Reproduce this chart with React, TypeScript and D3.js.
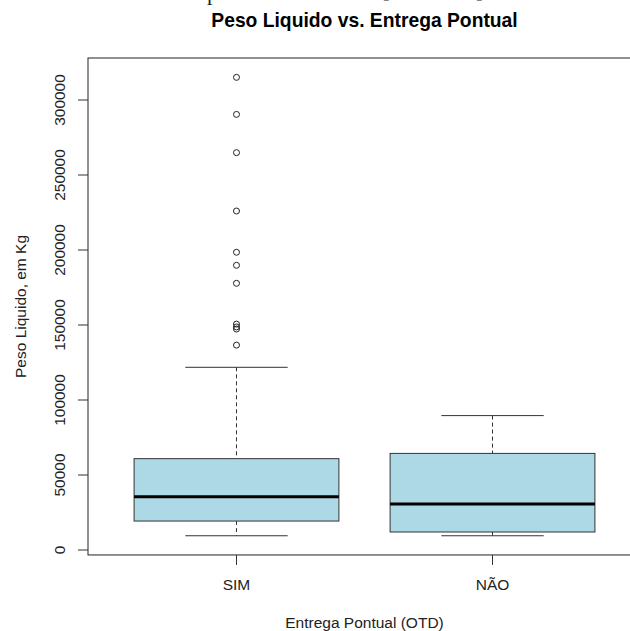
import React, { useEffect } from "react";
import * as d3 from "d3";

const categories = ["SIM", "NÃO"];
const lowerWhisker = [9500, 9500];
const q1 = [19300, 12000];
const medians = [35500, 30700];
const q3 = [60900, 64400];
const upperWhisker = [121800, 89600];
const outliersSIM = [315100, 290400, 264900, 226000, 198500, 189800, 177800, 150600, 148700, 147300, 136600];
const outliersNAO: number[] = [];
const yTicks = [0, 50000, 100000, 150000, 200000, 250000, 300000];

const W = 630;
const H = 631;
const font = "'Liberation Sans', Arial, sans-serif";

export default function App() {
  useEffect(() => {
    document.body.style.margin = "0";
  }, []);

  const x = d3.scaleLinear().domain([0.42, 2.58]).range([88, 641]);
  const y = d3.scaleLinear().domain([0, 300000]).range([550, 100]);
  const frameTop = y(328000);
  const frameBottom = y(-3300);
  const frameLeft = x(0.42);
  const frameRight = x(2.58);
  const halfBox = x(1.4) - x(1);
  const halfCap = halfBox / 2;
  const outliers = [outliersSIM, outliersNAO];
  const stroke = "#333";

  return (
    <svg width={W} height={H} style={{ display: "block" }} xmlns="http://www.w3.org/2000/svg">
      <rect x={0} y={0} width={W} height={H} fill="#fff" />
      {/* cropped fragments of document text above the chart */}
      <g fontFamily="'Liberation Serif', serif" fontSize={22} fill="#222">
        <text x={207} y={0}>p</text>
        <text x={383} y={-3}>]</text>
        <text x={476} y={-3}>]</text>
      </g>
      <text x={(frameLeft + frameRight) / 2} y={26.5} textAnchor="middle" fontFamily={font} fontWeight="bold" fontSize={19.3} fill="#000">
        Peso Liquido vs. Entrega Pontual
      </text>
      {categories.map((c, i) => {
        const cx = x(i + 1);
        return (
          <g key={c}>
            <line x1={cx} x2={cx} y1={y(upperWhisker[i])} y2={y(q3[i])} stroke={stroke} strokeWidth={1} strokeDasharray="4,3" />
            <line x1={cx} x2={cx} y1={y(q1[i])} y2={y(lowerWhisker[i])} stroke={stroke} strokeWidth={1} strokeDasharray="4,3" />
            <line x1={cx - halfCap} x2={cx + halfCap} y1={y(upperWhisker[i])} y2={y(upperWhisker[i])} stroke={stroke} strokeWidth={1} />
            <line x1={cx - halfCap} x2={cx + halfCap} y1={y(lowerWhisker[i])} y2={y(lowerWhisker[i])} stroke={stroke} strokeWidth={1} />
            <rect x={cx - halfBox} y={y(q3[i])} width={2 * halfBox} height={y(q1[i]) - y(q3[i])} fill="#ADD8E6" stroke={stroke} strokeWidth={1} />
            <line x1={cx - halfBox} x2={cx + halfBox} y1={y(medians[i])} y2={y(medians[i])} stroke="#000" strokeWidth={3} />
            {outliers[i].map((v, j) => (
              <circle key={j} cx={cx} cy={y(v)} r={3} fill="none" stroke="#222" strokeWidth={1} />
            ))}
          </g>
        );
      })}
      {/* frame */}
      <rect x={frameLeft} y={frameTop} width={frameRight - frameLeft} height={frameBottom - frameTop} fill="none" stroke="#222" strokeWidth={1} />
      {/* y axis */}
      {yTicks.map((t) => (
        <g key={t}>
          <line x1={frameLeft - 10} x2={frameLeft} y1={y(t)} y2={y(t)} stroke="#333" strokeWidth={1} />
          <text transform={`translate(65,${y(t)}) rotate(-90)`} textAnchor="middle" fontFamily={font} fontSize={15.5} fill="#222">
            {String(t)}
          </text>
        </g>
      ))}
      {/* x axis */}
      {categories.map((c, i) => (
        <g key={c}>
          <line x1={x(i + 1)} x2={x(i + 1)} y1={frameBottom} y2={frameBottom + 10} stroke="#333" strokeWidth={1} />
          <text x={x(i + 1)} y={590} textAnchor="middle" fontFamily={font} fontSize={15.5} fill="#222">
            {c}
          </text>
        </g>
      ))}
      <text x={(frameLeft + frameRight) / 2} y={628} textAnchor="middle" fontFamily={font} fontSize={15.5} fill="#222">
        Entrega Pontual (OTD)
      </text>
      <text transform={`translate(26,${(frameTop + frameBottom) / 2}) rotate(-90)`} textAnchor="middle" fontFamily={font} fontSize={15.5} fill="#222">
        Peso Liquido, em Kg
      </text>
    </svg>
  );
}
